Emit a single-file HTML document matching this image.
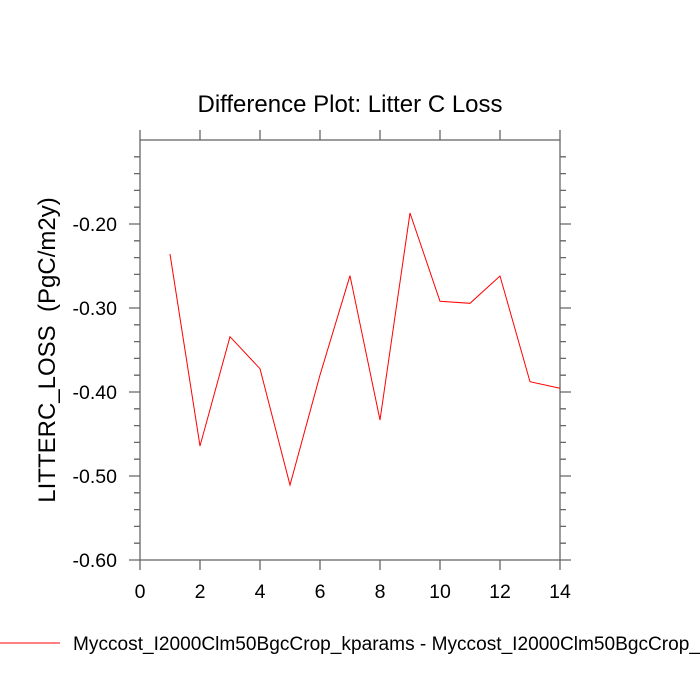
<!DOCTYPE html>
<html><head><style>body{margin:0;background:#fff}svg{display:block}</style></head><body>
<svg width="700" height="700" xmlns="http://www.w3.org/2000/svg" font-family="Liberation Sans, sans-serif">
<text x="350" y="112" font-size="24" text-anchor="middle">Difference Plot: Litter C Loss</text>
<text transform="translate(55,350) rotate(-90)" font-size="24" text-anchor="middle" xml:space="preserve">LITTERC_LOSS  (PgC/m2y)</text>
<g stroke="#666" stroke-width="1.3" fill="none">
<rect x="140" y="140" width="420" height="420"/>
<path d="M140 140v-10M200 140v-10M260 140v-10M320 140v-10M380 140v-10M440 140v-10M500 140v-10M560 140v-10
M140 560v10M200 560v10M260 560v10M320 560v10M380 560v10M440 560v10M500 560v10M560 560v10
M140 224h-11M140 308h-11M140 392h-11M140 476h-11M140 560h-11
M560 224h11M560 308h11M560 392h11M560 476h11M560 560h11
M140 156.8h-6M140 173.6h-6M140 190.4h-6M140 207.2h-6M140 240.8h-6M140 257.6h-6M140 274.4h-6M140 291.2h-6M140 324.8h-6M140 341.6h-6M140 358.4h-6M140 375.2h-6M140 408.8h-6M140 425.6h-6M140 442.4h-6M140 459.2h-6M140 492.8h-6M140 509.6h-6M140 526.4h-6M140 543.2h-6
M560 156.8h6M560 173.6h6M560 190.4h6M560 207.2h6M560 240.8h6M560 257.6h6M560 274.4h6M560 291.2h6M560 324.8h6M560 341.6h6M560 358.4h6M560 375.2h6M560 408.8h6M560 425.6h6M560 442.4h6M560 459.2h6M560 492.8h6M560 509.6h6M560 526.4h6M560 543.2h6"/>
</g>
<g font-size="19.5" text-anchor="end">
<text x="117" y="231">-0.20</text><text x="117" y="315">-0.30</text><text x="117" y="399">-0.40</text><text x="117" y="483">-0.50</text><text x="117" y="567">-0.60</text>
</g>
<g font-size="19.5" text-anchor="middle">
<text x="140" y="598">0</text><text x="200" y="598">2</text><text x="260" y="598">4</text><text x="320" y="598">6</text><text x="380" y="598">8</text><text x="440" y="598">10</text><text x="500" y="598">12</text><text x="560" y="598">14</text>
</g>
<polyline fill="none" stroke="#f00" stroke-width="1" points="170,254 200,446 230,336.7 260,368.7 290,485 320,375 350,275.7 380,420 410,213 440,301.3 470,303.3 500,276 530,381.7 560,388.3"/>
<line x1="0" y1="643" x2="60" y2="643" stroke="#f00" stroke-width="1"/>
<text x="73" y="650" font-size="19" textLength="627" lengthAdjust="spacingAndGlyphs">Myccost_I2000Clm50BgcCrop_kparams - Myccost_I2000Clm50BgcCrop_</text>
</svg>
</body></html>
